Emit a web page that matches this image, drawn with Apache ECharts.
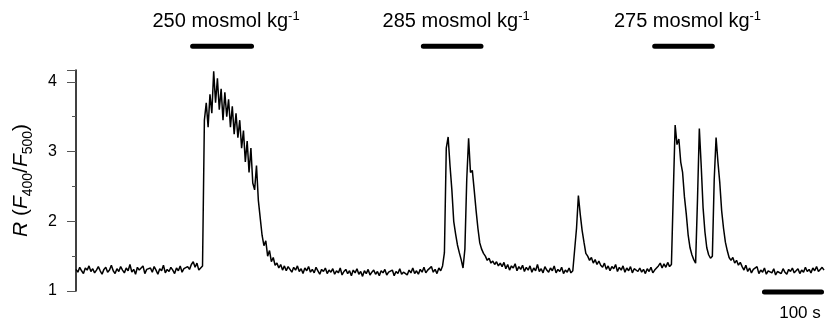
<!DOCTYPE html>
<html>
<head>
<meta charset="utf-8">
<script src="https://cdn.jsdelivr.net/npm/echarts@6/dist/echarts.min.js"></script>
<style>
  html, body { margin: 0; padding: 0; background: #fff; }
  #chart { width: 825px; height: 324px; }
</style>
</head>
<body>
<div id="chart"></div>
<script>
// ratio trace, one sample every STEP seconds
const STEP = 3;
const ratio = [
  // baseline
  1.31,1.27,1.34,1.29,1.25,1.33,1.30,1.36,1.28,1.32,
  1.26,1.30,1.35,1.29,1.24,1.31,1.34,1.27,1.30,1.37,
  1.29,1.25,1.32,1.28,1.35,1.30,1.26,1.33,1.29,1.38,
  1.27,1.31,1.24,1.34,1.30,1.28,1.36,1.25,1.31,1.29,
  1.33,1.27,1.35,1.30,1.24,1.32,1.29,1.37,1.26,1.31,
  1.28,1.34,1.30,1.25,1.33,1.29,1.36,1.27,1.32,1.30,
  1.35,1.31,1.38,1.42,1.34,1.40,1.30,1.33,
  // 250 mosmol response
  1.36,3.45,3.70,3.35,3.82,3.55,4.15,3.70,4.05,3.60,
  3.90,3.45,3.85,3.50,3.75,3.35,3.65,3.25,3.55,3.20,
  3.45,3.05,3.30,2.85,3.15,2.70,3.05,2.55,2.45,2.80,
  2.30,2.05,1.80,1.65,1.72,1.50,1.58,1.42,1.48,1.37,
  // baseline
  1.40,1.33,1.38,1.30,1.36,1.29,1.35,1.31,1.27,1.34,
  1.30,1.36,1.28,1.32,1.25,1.33,1.29,1.35,1.27,1.31,
  1.26,1.34,1.29,1.24,1.31,1.28,1.33,1.25,1.30,1.27,
  1.32,1.24,1.29,1.26,1.33,1.23,1.28,1.31,1.25,1.29,
  1.22,1.30,1.26,1.32,1.24,1.28,1.21,1.29,1.25,1.31,
  1.23,1.27,1.30,1.24,1.28,1.22,1.29,1.26,1.31,1.23,
  1.27,1.25,1.30,1.22,1.28,1.25,1.32,1.24,1.27,1.29,
  1.23,1.30,1.26,1.33,1.25,1.29,1.24,1.31,1.27,1.34,
  1.26,1.30,1.28,1.35,1.27,1.31,1.25,1.33,1.29,1.36,
  // 285 mosmol, two spikes
  1.55,3.05,3.21,2.80,2.45,2.00,1.82,1.66,1.55,1.45,1.33,
  1.60,2.60,3.19,2.70,2.73,2.45,2.16,1.90,1.69,1.60,
  1.54,1.50,1.44,1.47,1.40,1.43,1.38,1.42,1.36,1.40,
  // baseline
  1.35,1.41,1.32,1.38,1.30,1.36,1.33,1.39,1.29,1.35,
  1.31,1.37,1.28,1.34,1.30,1.36,1.27,1.33,1.29,1.38,
  1.28,1.32,1.26,1.35,1.30,1.27,1.33,1.29,1.36,1.26,
  1.31,1.28,1.34,1.25,1.30,1.27,1.33,1.26,1.29,1.31,
  // small spontaneous spike
  1.90,2.37,2.10,1.87,1.70,1.54,1.50,1.44,1.48,1.40,1.45,1.38,1.43,1.37,
  // baseline
  1.34,1.40,1.31,1.36,1.29,1.35,1.32,1.38,1.28,1.34,
  1.30,1.36,1.27,1.33,1.29,1.35,1.26,1.32,1.30,1.28,
  1.33,1.27,1.31,1.25,1.32,1.28,1.34,1.26,1.30,1.29,
  1.36,1.40,1.33,1.39,1.34,1.41,1.35,1.38,
  // 275 mosmol, three spikes
  2.40,3.38,3.10,3.18,2.85,2.70,2.35,2.10,1.80,1.62,1.52,1.45,1.40,
  2.30,3.33,2.80,2.20,1.85,1.62,1.52,1.47,1.50,
  2.60,3.20,2.85,2.55,2.15,1.90,1.70,1.58,1.48,1.44,1.48,1.40,1.44,1.37,1.41,
  // baseline
  1.35,1.30,1.37,1.28,1.33,1.26,1.31,1.29,1.35,1.25,
  1.30,1.27,1.33,1.24,1.29,1.31,1.26,1.32,1.23,1.28,
  1.30,1.25,1.32,1.27,1.24,1.31,1.28,1.33,1.26,1.29,
  1.32,1.25,1.30,1.27,1.34,1.28,1.31,1.26,1.33,1.29,
  1.35,1.28,1.31,1.34,1.30
];

// stimulus periods (s) and labels
const stimLabels = ['250', '285', '275'];
const stimStart = [188, 560, 933];
const stimEnd = [283, 653, 1026];

// 100 s scale bar (s)
const scaleBar = [1110, 1202];
const scaleText = '100 s';

const FONT = 'Liberation Sans, Arial, Helvetica, sans-serif';
const STIM_Y = 4.51;   // height of stimulus bars, in R units
const SCALE_Y = 0.985; // height of scale bar, in R units

const chart = echarts.init(document.getElementById('chart'));

const trace = ratio.map((v, i) => [i * STEP, v]);

const stimSeries = stimStart.map((s, k) => ({
  type: 'line',
  clip: false,
  silent: true,
  symbol: 'circle',
  symbolSize: 1,
  itemStyle: { color: '#000' },
  lineStyle: { color: '#000', width: 5, cap: 'round' },
  data: [
    [s, STIM_Y],
    {
      value: [(s + stimEnd[k]) / 2, STIM_Y],
      label: {
        show: true,
        position: 'top',
        distance: 13,
        offset: [4, 0],
        formatter: stimLabels[k] + ' mosmol kg{sup|-1}',
        fontFamily: FONT,
        fontSize: 20,
        lineHeight: 23,
        color: '#000',
        rich: {
          sup: { fontFamily: FONT, fontSize: 13, lineHeight: 13, verticalAlign: 'top', color: '#000' }
        }
      }
    },
    [stimEnd[k], STIM_Y]
  ]
}));

const option = {
  animation: false,
  grid: { left: 76, right: 1, top: 70, bottom: 33 },
  xAxis: {
    type: 'value',
    min: 0,
    max: 1206,
    show: false
  },
  yAxis: {
    type: 'value',
    min: 1,
    max: 4.17,
    interval: 1,
    axisLine: { show: true, lineStyle: { color: '#000', width: 1.5 } },
    axisTick: { show: true, length: 9, lineStyle: { color: '#555', width: 1 } },
    minorTick: { show: true, splitNumber: 2, length: 4, lineStyle: { color: '#555', width: 1 } },
    splitLine: { show: false },
    axisLabel: {
      margin: 19,
      color: '#000',
      fontFamily: FONT,
      fontSize: 16
    },
    name: '{i|R} ({i|F}{sub|400}/{i|F}{sub|500})',
    nameLocation: 'middle',
    nameRotate: 90,
    nameGap: 41,
    nameTextStyle: {
      fontFamily: FONT,
      fontSize: 21,
      lineHeight: 27,
      color: '#000',
      rich: {
        i: { fontFamily: FONT, fontSize: 21, fontStyle: 'italic', lineHeight: 27, color: '#000' },
        sub: { fontFamily: FONT, fontSize: 14, lineHeight: 14, verticalAlign: 'bottom', color: '#000' }
      }
    }
  },
  series: [
    {
      type: 'line',
      data: trace,
      symbol: 'none',
      silent: true,
      lineStyle: { color: '#000', width: 1.5 }
    },
    ...stimSeries,
    {
      type: 'line',
      clip: false,
      silent: true,
      symbol: 'circle',
      symbolSize: 1,
      itemStyle: { color: '#000' },
      lineStyle: { color: '#000', width: 5, cap: 'round' },
      data: [
        [scaleBar[0], SCALE_Y],
        {
          value: [(scaleBar[0] + scaleBar[1]) / 2, SCALE_Y],
          label: {
            show: true,
            position: 'bottom',
            distance: 12,
            offset: [7, 0],
            formatter: scaleText,
            fontFamily: FONT,
            fontSize: 17,
            color: '#000'
          }
        },
        [scaleBar[1], SCALE_Y]
      ]
    }
  ]
};

chart.setOption(option);
</script>
</body>
</html>
